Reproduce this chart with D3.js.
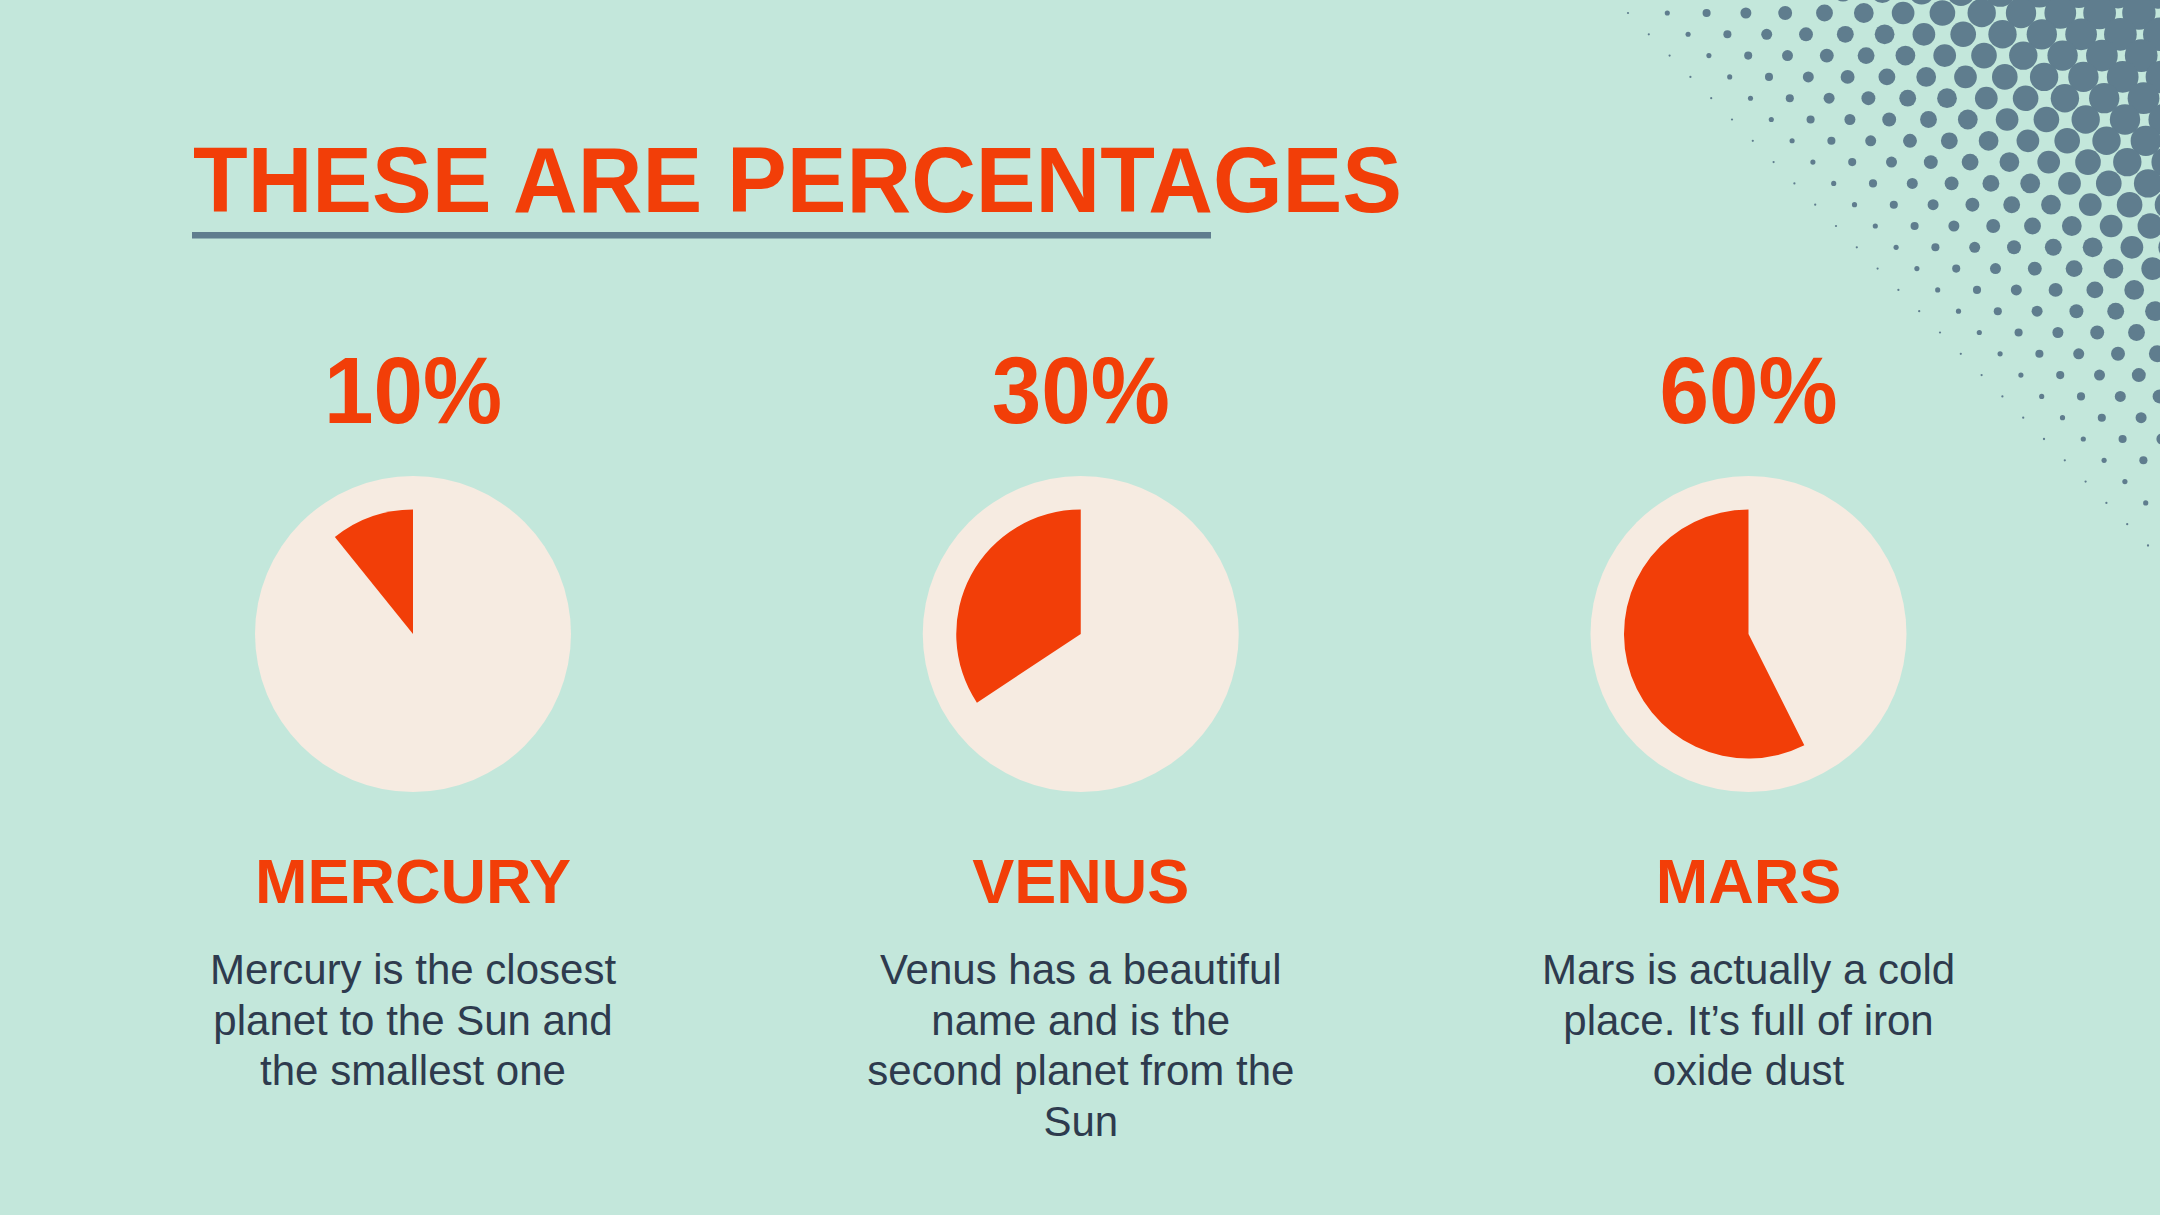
<!DOCTYPE html>
<html>
<head>
<meta charset="utf-8">
<script src="https://cdn.jsdelivr.net/npm/d3@7"></script>
<style>
  html, body { margin: 0; padding: 0; background: #c3e7db; }
  svg { display: block; }
</style>
</head>
<body>
<svg id="chart" width="2160" height="1215"></svg>
<script>
// ---- data ----
const categories = ["MERCURY", "VENUS", "MARS"];
const percentLabels = ["10%", "30%", "60%"];
const percentValues = [10, 30, 60];
// wedge sizes as actually drawn in the picture (percent of full circle)
const sliceShares = [10.8, 34.3, 57.4];
const descriptions = [
  ["Mercury is the closest", "planet to the Sun and", "the smallest one"],
  ["Venus has a beautiful", "name and is the", "second planet from the", "Sun"],
  ["Mars is actually a cold", "place. It\u2019s full of iron", "oxide dust"]
];
const titleText = "THESE ARE PERCENTAGES";

// ---- styles ----
const W = 2160, H = 1215;
const BG = "#c3e7db", ORANGE = "#f23e08", CREAM = "#f6ebe1", SLATE = "#5f7d8e", TEXT = "#2e3b4e";
const FONT = "'Liberation Sans', Arial, Helvetica, sans-serif";

const svg = d3.select("#chart");
svg.append("rect").attr("width", W).attr("height", H).attr("fill", BG);

// ---- halftone decoration (top-right corner) ----
const deco = svg.append("g");
const ox = 1628, oy = 13;
const ax = 20.8, ay = 21.3, bx = 39.3;
const nx = 0.716, ny = -0.698;
const rOf = d => {
  const k = 0.052, r0 = 1.1, dc = 240;
  if (d <= dc) return r0 + k * d;
  const rc = r0 + k * dc;
  return rc + (17.5 - rc) * (1 - Math.exp(-(d - dc) / 80));
};
const dots = [];
for (let i = -40; i <= 40; i++) {
  for (let j = -5; j <= 30; j++) {
    const x = ox + i * ax + j * bx;
    const y = oy + i * ay;
    if (x < 1500 || x > W + 25 || y < -25 || y > 620) continue;
    const d = nx * (x - ox) + ny * (y - oy);
    if (d < -2) continue;
    dots.push({ x, y, r: rOf(Math.max(d, 0)) });
  }
}
deco.selectAll("circle").data(dots).join("circle")
  .attr("cx", d => d.x).attr("cy", d => d.y).attr("r", d => d.r)
  .attr("fill", SLATE);

// ---- title ----
svg.append("text")
  .attr("x", 193).attr("y", 211.5)
  .attr("font-family", FONT).attr("font-weight", "bold").attr("font-size", 93)
  .attr("fill", ORANGE)
  .attr("textLength", 1209).attr("lengthAdjust", "spacingAndGlyphs")
  .text(titleText);
svg.append("rect")
  .attr("x", 192).attr("y", 232).attr("width", 1019).attr("height", 6.5)
  .attr("fill", SLATE);

// ---- columns ----
const xPos = d3.scalePoint().domain(categories).range([413, 1748.5]);
const angle = d3.scaleLinear().domain([0, 100]).range([0, 2 * Math.PI]);
const cy = 634, rOuter = 158, rInner = 124.5;
const arc = d3.arc().innerRadius(0).outerRadius(rInner);

const cols = svg.selectAll("g.col").data(categories).join("g")
  .attr("class", "col")
  .attr("transform", d => `translate(${xPos(d)},0)`);

cols.append("text")
  .attr("x", 0).attr("y", 422.5)
  .attr("text-anchor", "middle")
  .attr("font-family", FONT).attr("font-weight", "bold").attr("font-size", 95)
  .attr("fill", ORANGE)
  .attr("textLength", 178).attr("lengthAdjust", "spacingAndGlyphs")
  .text((d, i) => percentLabels[i]);

cols.append("circle")
  .attr("cx", 0).attr("cy", cy).attr("r", rOuter)
  .attr("fill", CREAM);

cols.each(function (d, i) {
  const share = sliceShares[i];
  const a0 = -angle(share);
  const arcs = d3.pie().sort(null).value(v => v)
    .startAngle(a0).endAngle(a0 + 2 * Math.PI)([share, 100 - share]);
  d3.select(this).append("path")
    .attr("transform", `translate(0,${cy})`)
    .attr("d", arc(arcs[0]))
    .attr("fill", ORANGE);
});

cols.append("text")
  .attr("x", 0).attr("y", 903)
  .attr("text-anchor", "middle")
  .attr("font-family", FONT).attr("font-weight", "bold").attr("font-size", 63)
  .attr("fill", ORANGE)
  .text(d => d);

cols.each(function (d, i) {
  const t = d3.select(this).append("text")
    .attr("text-anchor", "middle")
    .attr("font-family", FONT).attr("font-size", 42)
    .attr("fill", TEXT);
  t.selectAll("tspan").data(descriptions[i]).join("tspan")
    .attr("x", 0).attr("y", (s, k) => 984 + k * 50.7)
    .text(s => s);
});
</script>
</body>
</html>
